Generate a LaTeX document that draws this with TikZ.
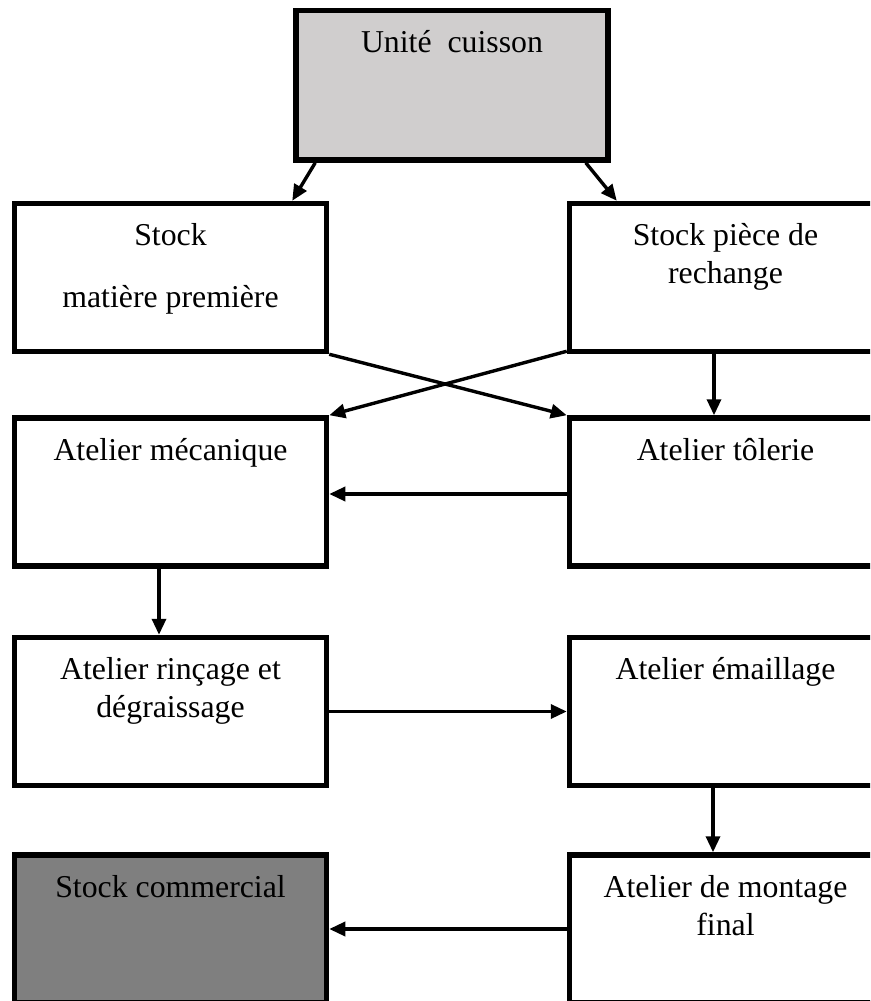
\documentclass[tikz,border=0pt]{standalone}
\usepackage{fontspec}
\setmainfont{Liberation Serif}
\usetikzlibrary{arrows.meta,calc}
\definecolor{topgray}{HTML}{D0CECE}
\definecolor{stockgray}{HTML}{7F7F7F}
\begin{document}
\begin{tikzpicture}[x=1pt,y=-1pt,
  box/.style={draw=black, line width=5.5pt, minimum width=312pt, minimum height=148pt, inner sep=0pt, fill=white},
  lbl/.style={anchor=base, align=center, font=\fontsize{31.8pt}{38pt}\selectfont, inner sep=0pt},
  arr/.style={line width=3.4pt, -{Triangle[length=16pt,width=14pt]}}]
\useasboundingbox (0,0) rectangle (870,1001);
\clip (0,0) rectangle (870,1001);
% boxes
\node[box, fill=topgray, minimum height=149.5pt] (top) at (452,85.25) {};
\node[box] (sm) at (170.5,277.5) {};
\node[box] (sp) at (725.5,277.5) {};
\node[box] (am) at (170.5,492) {};
\node[box] (tl) at (725.5,492) {};
\node[box] (rn) at (170.5,711.5) {};
\node[box] (em) at (725.5,711.5) {};
\node[box, fill=stockgray] (sc) at (170.5,929) {};
\node[box] (mf) at (725.5,929) {};
% labels (multi-line nodes: base = last line)
\node[lbl] (ttop) at (452,52.5) {Unité\ \ cuisson};
\node[lbl] (tsm1) at (170.5,245.5) {Stock};
\node[lbl] (tsm2) at (170.5,307) {matière première};
\node[lbl] (tsp) at (725.5,283.5) {Stock pièce de\\rechange};
\node[lbl] (tam) at (170.5,460) {Atelier mécanique};
\node[lbl] (ttl) at (725.5,460) {Atelier tôlerie};
\node[lbl] (trn) at (170.5,717.5) {Atelier rinçage et\\dégraissage};
\node[lbl] (tem) at (725.5,679.5) {Atelier émaillage};
\node[lbl] (tsc) at (170.5,897) {Stock commercial};
\node[lbl] (tmf) at (725.5,935) {Atelier de montage\\final};
% connectors
\draw[arr] ($(top.south west)+(22,0)$) -- ($(sm.north east)+(-37,0)$);
\draw[arr] ($(top.south east)+(-25,0)$) -- ($(sp.north west)+(50,0)$);
\draw[arr] (sm.south east) -- (tl.north west);
\draw[arr] ($(sp.south west)+(0,-3)$) -- (am.north east);
\draw[arr] ($(sp.south)+(-11.5,0)$) -- ($(tl.north)+(-11.5,0)$);
\draw[arr] ($(tl.west)+(0,2)$) -- ($(am.east)+(0,2)$);
\draw[arr] ($(am.south)+(-11.5,0)$) -- ($(rn.north)+(-11.5,0)$);
\draw[arr] (rn.east) -- (em.west);
\draw[arr] ($(em.south)+(-12.5,0)$) -- ($(mf.north)+(-12.5,0)$);
\draw[arr] (mf.west) -- (sc.east);
\end{tikzpicture}
\end{document}
